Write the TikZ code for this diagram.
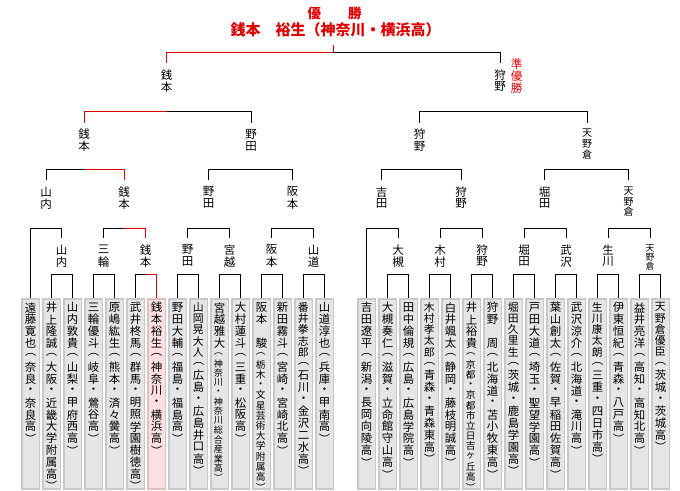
\documentclass[tikz,border=0pt]{standalone}
\usepackage{fontspec}
\setmainfont{Noto Sans CJK JP}
\definecolor{wred}{RGB}{221,0,0}
\definecolor{bfill}{RGB}{229,229,229}
\definecolor{bdraw}{RGB}{200,200,200}
\definecolor{pfill}{RGB}{250,224,224}
\definecolor{pdraw}{RGB}{226,190,190}

\ExplSyntaxOn
\NewDocumentCommand \VTi { m m m }
  {
    \group_begin:
    \fontsize{#1}{#2}\selectfont
    \offinterlineskip
    \tl_map_inline:nn {#3}
      { \hbox_to_wd:nn {#1 pt} { \hss \vbox_to_ht:nn {#2 pt} { \vss \hbox:n {##1} \vss } \hss } }
    \group_end:
  }
\NewDocumentCommand \VT { m m m }
  { \vbox:n { \offinterlineskip \VTi {#1} {#2} {#3} } }
\ExplSyntaxOff

\tikzset{
  tl/.style={draw=black, line width=1pt},
  rl/.style={draw=wred, line width=1pt},
  lab/.style={anchor=north, inner xsep=0pt, inner ysep=5.5pt},
  txt/.style={anchor=north, inner sep=0pt},
  pbox/.style={draw=bdraw, fill=bfill, line width=1.5pt, minimum width=17.5pt, minimum height=190pt, anchor=north, inner sep=0pt},
  wbox/.style={pbox, draw=pdraw, fill=pfill}
}

\newcommand\hb[4][tl]{\draw[#1] (#2.center |- 0,#4) -- (#3.north |- 0,#4) -- (#3.north);}
\newcommand\player[9]{%
  \node[#3] (#1) at (#2,298) {};
  \node[txt] (#1t) at (#2,301.5) {\vbox{\offinterlineskip\VTi{#5}{#6}{#4}\VTi{#8}{#9}{#7}}};
}
\newcommand\pl[5]{\player{#1}{#2}{#3}{#4}{11.4}{11.9}{#5}{11.4}{11.9}}
\newcommand\plf[5]{\player{#1}{#2}{#3}{#4}{10.8}{11.2}{#5}{11.4}{11.9}}
\newcommand\lb[4]{\node[lab] (#1) at (#2,#3) {\VT{11.5}{12}{#4}};}
\newcommand\lbs[6]{\node[lab] (#1) at (#2,#3) {\VT{#5}{#6}{#4}};}

\begin{document}
\begin{tikzpicture}[x=1pt,y=-1pt]
\useasboundingbox (0,0) rectangle (680,490);

% title
\node[font=\bfseries\fontsize{13.5}{14}\selectfont, text=wred, inner sep=0pt] (title) at (334.7,13.8) {優　　勝};
\node[font=\bfseries\fontsize{15}{16}\selectfont, text=wred, inner sep=0pt] (champ) at (335.5,30.3) {銭本　裕生（神奈川・横浜高）};
\node[anchor=north, inner sep=0pt, text=wred] (runner) at (516.7,57.5) {\VT{11.5}{12.3}{準優勝}};

% players left
\pl{b0}{30.5}{pbox}{遠藤寛也}{︵奈良・奈良高︶}
\pl{b1}{51.5}{pbox}{井上隆誠}{︵大阪・近畿大学附属高︶}
\pl{b2}{72.5}{pbox}{山内敦貴}{︵山梨・甲府西高︶}
\pl{b3}{93.5}{pbox}{三輪優斗}{︵岐阜・鶯谷高︶}
\pl{b4}{114.5}{pbox}{原嶋紘生}{︵熊本・済々黌高︶}
\pl{b5}{135.5}{pbox}{武井柊馬}{︵群馬・明照学園樹徳高︶}
\pl{b6}{156.5}{wbox}{銭本裕生}{︵神奈川・横浜高︶}
\pl{b7}{177.5}{pbox}{野田大輔}{︵福島・福島高︶}
\plf{b8}{198.5}{pbox}{山岡晃大人}{︵広島・広島井口高︶}
\player{b9}{219.5}{pbox}{宮越雅大}{11.4}{11.9}{︵神奈川・神奈川総合産業高︶}{9.1}{9.5}
\pl{b10}{240.5}{pbox}{大村蓮斗}{︵三重・松阪高︶}
\player{b11}{261.5}{pbox}{阪本　駿}{11.4}{11.9}{︵栃木・文星芸術大学附属高︶}{9.7}{10.2}
\pl{b12}{282.5}{pbox}{新田霧斗}{︵宮崎・宮崎北高︶}
\plf{b13}{303.5}{pbox}{番井拳志郎}{︵石川・金沢二水高︶}
\pl{b14}{324.5}{pbox}{山道淳也}{︵兵庫・甲南高︶}

% players right
\pl{r0}{366.5}{pbox}{吉田遼平}{︵新潟・長岡向陵高︶}
\pl{r1}{387.5}{pbox}{大槻奏仁}{︵滋賀・立命館守山高︶}
\pl{r2}{408.5}{pbox}{田中倫規}{︵広島・広島学院高︶}
\plf{r3}{429.5}{pbox}{木村孝太郎}{︵青森・青森東高︶}
\pl{r4}{450.5}{pbox}{白井颯太}{︵静岡・藤枝明誠高︶}
\player{r5}{471.5}{pbox}{井上裕貴}{11.4}{11.9}{︵京都・京都市立日吉ヶ丘高︶}{9.7}{10.2}
\pl{r6}{492.5}{pbox}{狩野　周}{︵北海道・苫小牧東高︶}
\plf{r7}{513.5}{pbox}{堀田久里生}{︵茨城・鹿島学園高︶}
\pl{r8}{534.5}{pbox}{戸田大道}{︵埼玉・聖望学園高︶}
\pl{r9}{555.5}{pbox}{葉山創太}{︵佐賀・早稲田佐賀高︶}
\pl{r10}{576.5}{pbox}{武沢涼介}{︵北海道・滝川高︶}
\plf{r11}{597.5}{pbox}{生川康太朗}{︵三重・四日市高︶}
\pl{r12}{618.5}{pbox}{伊東恒紀}{︵青森・八戸高︶}
\pl{r13}{639.5}{pbox}{益井亮洋}{︵高知・高知北高︶}
\plf{r14}{660.5}{pbox}{天野倉優臣}{︵茨城・茨城高︶}

% labels
\coordinate (root) at (333,45);
\lb{F1}{166.5}{63}{銭本}
\lb{F2}{500}{63}{狩野}
\lb{L4a}{84}{122.5}{銭本}
\lb{L4b}{251}{122.5}{野田}
\lb{R4a}{419.5}{122.5}{狩野}
\lbs{R4b}{587}{122.5}{天野倉}{10}{10.5}
\lb{L3a}{46}{180}{山内}
\lb{L3b}{124}{180}{銭本}
\lb{L3c}{208.5}{180}{野田}
\lb{L3d}{292.5}{180}{阪本}
\lb{R3a}{381.5}{180}{吉田}
\lb{R3b}{461}{180}{狩野}
\lb{R3c}{544.5}{180}{堀田}
\lbs{R3d}{628.5}{180}{天野倉}{10}{10.5}
\lb{L2a}{61.5}{238}{山内}
\lb{L2b}{103.5}{238}{三輪}
\lb{L2c}{145.5}{238}{銭本}
\lb{L2d}{187.5}{238}{野田}
\lb{L2e}{229.5}{238}{宮越}
\lb{L2f}{271.5}{238}{阪本}
\lb{L2g}{313.5}{238}{山道}
\lb{R2a}{398}{238}{大槻}
\lb{R2b}{440}{238}{木村}
\lb{R2c}{482}{238}{狩野}
\lb{R2d}{524}{238}{堀田}
\lb{R2e}{566}{238}{武沢}
\lb{R2f}{608}{238}{生川}
\lbs{R2g}{650}{238}{天野倉}{8.8}{9}

% black brackets
\hb{root}{F2}{52}
\hb{F1}{L4b}{111}
\hb{F2}{R4a}{111} \hb{F2}{R4b}{111}
\hb{L4a}{L3a}{169}
\hb{L4b}{L3c}{169} \hb{L4b}{L3d}{169}
\hb{R4a}{R3a}{169} \hb{R4a}{R3b}{169}
\hb{R4b}{R3c}{169} \hb{R4b}{R3d}{169}
\hb{L3a}{b0}{228} \hb{L3a}{L2a}{228}
\hb{L3b}{L2b}{228}
\hb{L3c}{L2d}{228} \hb{L3c}{L2e}{228}
\hb{L3d}{L2f}{228} \hb{L3d}{L2g}{228}
\hb{R3a}{r0}{228} \hb{R3a}{R2a}{228}
\hb{R3b}{R2b}{228} \hb{R3b}{R2c}{228}
\hb{R3c}{R2d}{228} \hb{R3c}{R2e}{228}
\hb{R3d}{R2f}{228} \hb{R3d}{R2g}{228}
\hb{L2a}{b1}{274} \hb{L2a}{b2}{274}
\hb{L2b}{b3}{274} \hb{L2b}{b4}{274}
\hb{L2c}{b5}{274}
\hb{L2d}{b7}{274} \hb{L2d}{b8}{274}
\hb{L2e}{b9}{274} \hb{L2e}{b10}{274}
\hb{L2f}{b11}{274} \hb{L2f}{b12}{274}
\hb{L2g}{b13}{274} \hb{L2g}{b14}{274}
\hb{R2a}{r1}{274} \hb{R2a}{r2}{274}
\hb{R2b}{r3}{274} \hb{R2b}{r4}{274}
\hb{R2c}{r5}{274} \hb{R2c}{r6}{274}
\hb{R2d}{r7}{274} \hb{R2d}{r8}{274}
\hb{R2e}{r9}{274} \hb{R2e}{r10}{274}
\hb{R2f}{r11}{274} \hb{R2f}{r12}{274}
\hb{R2g}{r13}{274} \hb{R2g}{r14}{274}

% winner path (red)
\draw[rl] (root) -- (root |- 0,52);
\hb[rl]{root}{F1}{52}
\hb[rl]{F1}{L4a}{111}
\hb[rl]{L4a}{L3b}{169}
\hb[rl]{L3b}{L2c}{228}
\hb[rl]{L2c}{b6}{274}
\end{tikzpicture}
\end{document}
